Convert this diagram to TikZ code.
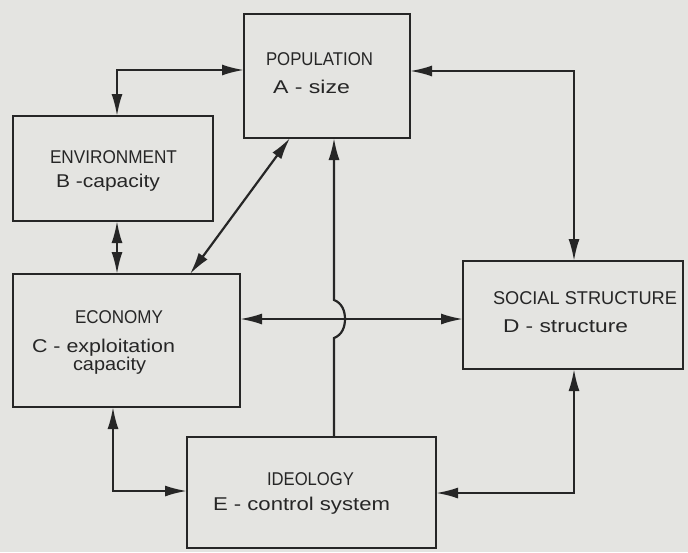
\documentclass[tikz,border=0pt]{standalone}
\usepackage{fontspec}
\setmainfont{Liberation Sans}
\usepackage{graphicx}
\usetikzlibrary{arrows.meta}
\definecolor{ink}{HTML}{262626}
\definecolor{paper}{HTML}{E4E4E1}
\newcommand{\fitw}[2]{\resizebox{#1pt}{\height}{#2}}
\begin{document}
\begin{tikzpicture}[x=1pt,y=-1pt,
  box/.style={draw=ink,line width=2.2pt,inner sep=0pt,outer sep=0pt,rectangle},
  lbl/.style={anchor=base west,inner sep=0pt,outer sep=0pt,text=ink,font=\fontsize{18.5}{22}\selectfont},
  tipA/.tip={Latex[length=22pt,width=11pt]},
  conn/.style={draw=ink,line width=2.2pt,tipA-tipA},
  oneway/.style={draw=ink,line width=2.2pt,-tipA}]
\useasboundingbox (0,0) rectangle (688,552);
\fill[paper] (0,0) rectangle (688,552);
% boxes
\node[box,minimum width=166pt,minimum height=124pt] (pop) at (327,76) {};
\node[box,minimum width=200pt,minimum height=105pt] (env) at (113,168.5) {};
\node[box,minimum width=227pt,minimum height=133pt] (eco) at (126.5,340.5) {};
\node[box,minimum width=220pt,minimum height=108pt] (soc) at (573,315) {};
\node[box,minimum width=249pt,minimum height=111pt] (ide) at (311.5,492.5) {};
% labels
\node[lbl] (popT) at (266,65) {\fitw{107}{POPULATION}};
\node[lbl] (popS) at (273,93) {\fitw{77}{A - size}};
\node[lbl] (envT) at (50,163) {\fitw{127}{ENVIRONMENT}};
\node[lbl] (envS) at (56,187) {\fitw{104}{B -capacity}};
\node[lbl] (ecoT) at (75,323) {\fitw{88}{ECONOMY}};
\node[lbl] (ecoS) at (32,352) {\fitw{143}{C - exploitation}};
\node[lbl] (ecoU) at (73,370) {\fitw{73}{capacity}};
\node[lbl] (socT) at (493,304) {\fitw{184}{SOCIAL STRUCTURE}};
\node[lbl] (socS) at (503,332) {\fitw{125}{D - structure}};
\node[lbl] (ideT) at (267,485) {\fitw{87}{IDEOLOGY}};
\node[lbl] (ideS) at (213,510) {\fitw{177}{E - control system}};
% helper coordinates
\coordinate (c1) at (117,70);
\coordinate (c2) at (574,71);
\coordinate (c3) at (117,0);
\coordinate (d1) at (290,0);
\coordinate (d2) at (190,0);
\coordinate (c4) at (0,319);
\coordinate (c5) at (113,491);
\coordinate (c6) at (574,493);
\coordinate (hx) at (334,0);
% connectors
\draw[conn] (c1 -| pop.west) -- (c1) -- (c1 |- env.north);
\draw[conn] (c2 -| pop.east) -- (c2) -- (c2 |- soc.north);
\draw[conn] (c3 |- env.south) -- (c3 |- eco.north);
\draw[conn] (d1 |- pop.south) -- (d2 |- eco.north);
\draw[conn] (c4 -| eco.east) -- (c4 -| soc.west);
\draw[conn] (c5 |- eco.south) -- (c5) -- (c5 -| ide.west);
\draw[conn] (c6 |- soc.south) -- (c6) -- (c6 -| ide.east);
\draw[oneway] (hx |- ide.north) -- (334,338) .. controls (342,335) and (345,327) .. (345,319) .. controls (345,311) and (342,303) .. (334,300) -- (hx |- pop.south);
\end{tikzpicture}
\end{document}
